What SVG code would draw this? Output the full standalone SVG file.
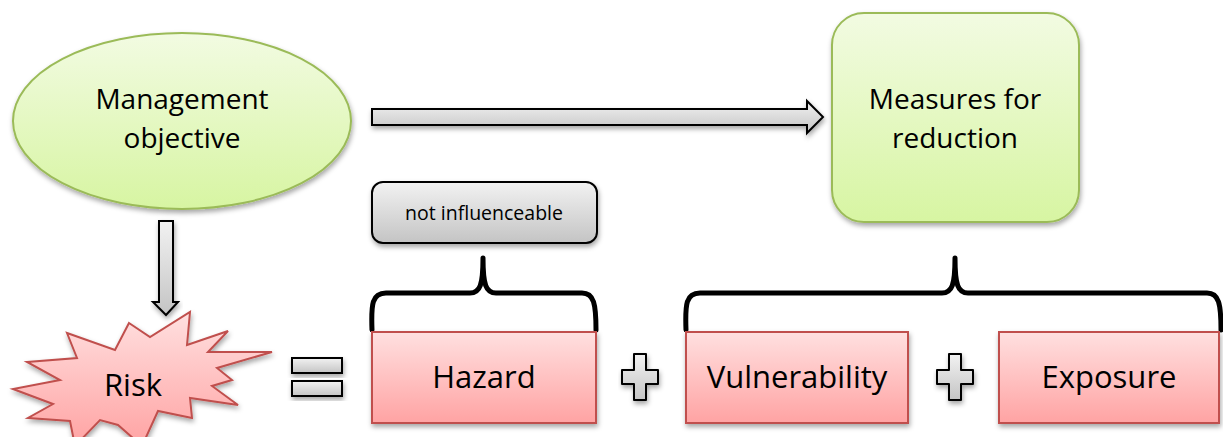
<svg xmlns="http://www.w3.org/2000/svg" width="1223" height="437" viewBox="0 0 1223 437">
<defs>
<linearGradient id="gGreen" x1="0" y1="0" x2="0" y2="1"><stop offset="0" stop-color="#f2fbe2"/><stop offset="1" stop-color="#d7f5a2"/></linearGradient>
<linearGradient id="gPink" x1="0" y1="0" x2="0" y2="1"><stop offset="0" stop-color="#ffe0e0"/><stop offset="1" stop-color="#ffa3a3"/></linearGradient>
<linearGradient id="gGray" x1="0" y1="0" x2="0" y2="1"><stop offset="0" stop-color="#f2f2f2"/><stop offset="1" stop-color="#c4c4c4"/></linearGradient>
<filter id="sh" x="-10%" y="-10%" width="130%" height="140%"><feDropShadow dx="1" dy="3" stdDeviation="2.5" flood-color="#000" flood-opacity="0.35"/></filter>
</defs>
<style>
.green{fill:url(#gGreen);stroke:#9bbb59;stroke-width:2;filter:url(#sh)}
.pink{fill:url(#gPink);stroke:#c0504d;stroke-width:2;filter:url(#sh)}
.gray{fill:url(#gGray);stroke:#000;stroke-width:2;filter:url(#sh)}
.brace{fill:none;stroke:#000;stroke-width:5;stroke-linecap:round;stroke-linejoin:round}
text{font-family:"Open Sans","Liberation Sans",sans-serif;fill:#000;text-anchor:middle}
.t27{font-size:28px}
.t30{font-size:31px}
.t20{font-size:19.5px}
</style>
<g id="connectors">
<path class="gray" d="M372,109 L807,109 L807,101 L823,117 L807,133 L807,125 L372,125 Z"/>
<path class="gray" d="M159,221 L173,221 L173,302 L178,302 L166,315 L153,302 L159,302 Z"/>
<path class="brace" d="M372,330 C371,304 372,293 386,293 L470,293 C480,293 483,285 483,258 C483,285 486,293 496,293 L582,293 C594,293 596,304 596,330"/>
<path class="brace" d="M686,330 C685,304 686,293 700,293 L942,293 C952,293 955,285 955,258 C955,285 958,293 968,293 L1207,293 C1219,293 1221,304 1221,330"/>
</g>
<g id="management-objective">
<ellipse class="green" cx="182" cy="121" rx="169" ry="88"/>
<text class="t27" x="182" y="109">Management</text>
<text class="t27" x="182" y="148">objective</text>
</g>
<g id="measures-for-reduction">
<rect class="green" x="832" y="13" width="247" height="209" rx="32"/>
<text class="t27" x="955" y="109">Measures for</text>
<text class="t27" x="955" y="148">reduction</text>
</g>
<g id="not-influenceable">
<rect class="gray" x="372" y="182" width="225" height="61" rx="11"/>
<text class="t20" x="484" y="220">not influenceable</text>
</g>
<g id="risk">
<polygon class="pink" points="129,323 150,337 190,312 187,345 228,331 208,352 272,352 217,368 232,380 212,386 238,405 190,398 192,418 158,411 142,446 118,425 100,420 75,446 70,421 28,418 53,404 13,389 60,380 27,362 77,358 67,333 115,350"/>
<text class="t30" x="133" y="396">Risk</text>
</g>
<g id="equals">
<rect class="gray" x="292" y="358" width="50" height="15"/>
<rect class="gray" x="292" y="381" width="50" height="15"/>
</g>
<g id="hazard">
<rect class="pink" x="372" y="332" width="224" height="91"/>
<text class="t30" x="484" y="388">Hazard</text>
</g>
<g id="plus1">
<path class="gray" d="M634,354 L646,354 L646,370 L658,370 L658,384 L646,384 L646,400 L634,400 L634,384 L622,384 L622,370 L634,370 Z" stroke-linejoin="round"/>
</g>
<g id="vulnerability">
<rect class="pink" x="686" y="332" width="222" height="91"/>
<text class="t30" x="797" y="388">Vulnerability</text>
</g>
<g id="plus2">
<path class="gray" d="M949,354 L961,354 L961,370 L973,370 L973,384 L961,384 L961,400 L949,400 L949,384 L937,384 L937,370 L949,370 Z" stroke-linejoin="round"/>
</g>
<g id="exposure">
<rect class="pink" x="999" y="332" width="220" height="91"/>
<text class="t30" x="1109" y="388">Exposure</text>
</g>
</svg>
